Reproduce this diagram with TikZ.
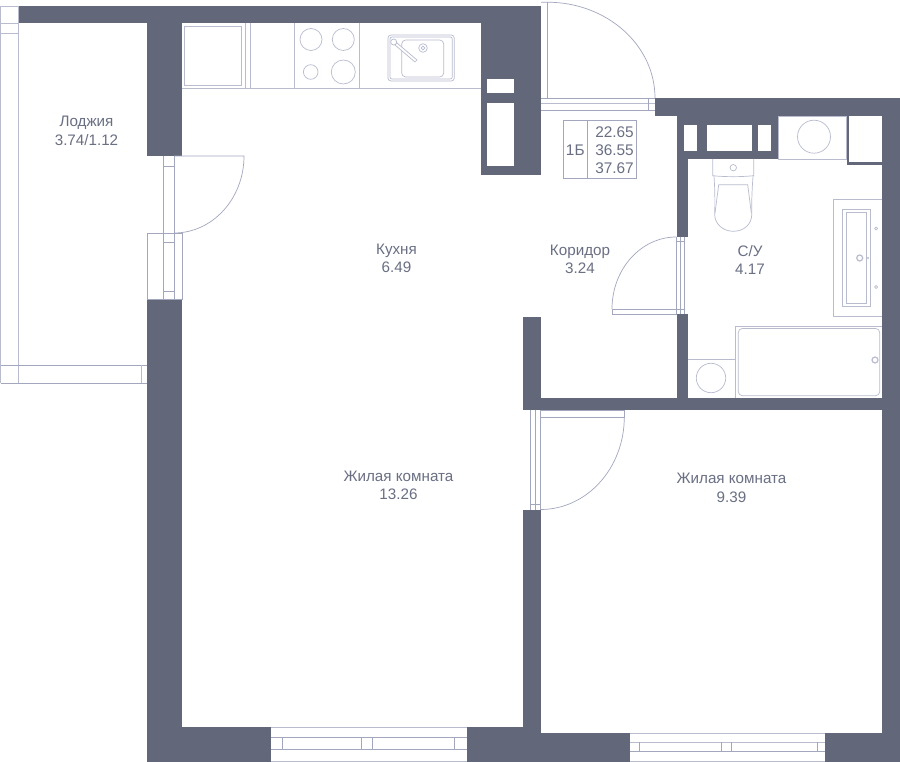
\documentclass[tikz,border=0pt]{standalone}
\usepackage{fontspec}
\setmainfont{Liberation Sans}
\usepackage{xcolor}
\definecolor{wallgray}{HTML}{626879}
\definecolor{fixline}{HTML}{B9BCCF}
\definecolor{doorline}{HTML}{A3A7BE}
\definecolor{labelgray}{HTML}{6A6F83}
\tikzset{
  wall/.style={fill=wallgray, draw=none},
  fixture/.style={draw=fixline, line width=0.7pt},
  doorleaf/.style={draw=doorline, line width=0.7pt},
  room/.style={text=labelgray, align=center, font=\fontsize{15.2}{18.5}\selectfont},
  cell/.style={text=labelgray, inner sep=0pt, font=\fontsize{15.4}{16}\selectfont}
}

\begin{document}
\begin{tikzpicture}[x=1pt, y=-1pt]
  \useasboundingbox[fill=white] (0, 0) rectangle (900, 762);
  % walls
  \fill[wall] (18, 6) rectangle (541, 23);
  \fill[wall] (147, 23) rectangle (182, 156);
  \fill[wall] (481, 23) rectangle (541, 175);
  \fill[wall] (147, 299) rectangle (182, 762);
  \fill[wall] (182, 727) rectangle (271, 762);
  \fill[wall] (467, 727) rectangle (541, 762);
  \fill[wall] (523, 509.5) rectangle (541, 762);
  \fill[wall] (541, 733) rectangle (630, 762);
  \fill[wall] (825, 733) rectangle (900, 762);
  \fill[wall] (523, 317) rectangle (541, 410);
  \fill[wall] (541, 398) rectangle (900, 410);
  \fill[wall] (655, 98) rectangle (900, 116);
  \fill[wall] (882, 116) rectangle (900, 733);
  \fill[wall] (676.5, 116) rectangle (688, 237);
  \fill[wall] (676.5, 314) rectangle (688, 398);
  \fill[wall] (688, 116) rectangle (778, 159);
  \fill[wall] (846.5, 116) rectangle (882, 165);
  % shafts
  \fill[white] (487, 79) rectangle (514, 93);
  \fill[white] (487, 103) rectangle (514, 166);
  \fill[white] (684, 125) rectangle (697, 151.5);
  \fill[white] (707, 125) rectangle (752, 151.5);
  \fill[white] (758, 125) rectangle (771, 151.5);
  \fill[white] (848.5, 116) rectangle (882, 162);
  % loggia
  \draw[fixture] (0.8, 6) -- (0.8, 383);
  \draw[fixture] (0.8, 6) -- (18, 6);
  \draw[fixture] (18, 6) -- (18, 383);
  \draw[fixture] (0.8, 23) -- (18, 23);
  \draw[fixture] (0.8, 33) -- (18, 33);
  \draw[doorleaf] (0.8, 365) -- (147, 365);
  \draw[doorleaf] (0.8, 383) -- (147, 383);
  \draw[fixture] (141.5, 365) -- (141.5, 383);
  % loggia door
  \draw[doorleaf] (147, 233) rectangle (182, 299);
  \draw[doorleaf] (163.7, 156) -- (163.7, 299);
  \draw[doorleaf] (174, 156) -- (174, 299);
  \draw[doorleaf] (163.7, 166) -- (174, 166);
  \draw[doorleaf] (163.7, 242) -- (174, 242);
  \draw[doorleaf] (163.7, 291) -- (174, 291);
  \draw[doorleaf] (174, 156) -- (244, 156) arc[start angle=0, end angle=90, x radius=70, y radius=77];
  % kitchen
  \draw[fixture] (182, 88.3) -- (481, 88.3);
  \draw[fixture] (184.5, 26) rectangle (241.7, 85.5);
  \draw[fixture] (245, 23) -- (245, 88.3);
  \draw[fixture] (250.3, 23) -- (250.3, 88.3);
  \draw[fixture] (294.5, 23) -- (294.5, 88.3);
  \draw[fixture] (359.7, 23) -- (359.7, 88.3);
  \draw[fixture] (311, 39.5) circle (11);
  \draw[fixture] (343.3, 39.5) circle (11);
  \draw[fixture] (310.7, 72) circle (7.3);
  \draw[fixture] (343.3, 72) circle (12);
  \draw[fixture, rounded corners=3pt] (388, 35) rectangle (454.3, 81);
  \draw[fixture, rounded corners=2pt] (390, 37) rectangle (452.3, 79);
  \draw[fixture, rounded corners=4pt] (401.7, 40) rectangle (443.7, 77);
  \draw[fixture] (423, 48) circle (4.3);
  \draw[fixture] (423, 48) circle (1.8);
  \draw[fixture, fill=white] (395, 45) -- (415, 62) -- (417, 60) -- (397, 43) -- cycle;
  \draw[fixture, fill=white] (393.7, 42) circle (3);
  % entrance door
  \draw[doorleaf] (541, 98) -- (655, 98);
  \draw[fixture] (541, 103) -- (655, 103);
  \draw[doorleaf] (541, 110) -- (655, 110);
  \draw[doorleaf] (648.3, 98) -- (648.3, 110);
  \draw[doorleaf] (547.3, 2.2) -- (547.3, 98);
  \draw[doorleaf] (541, 2.2) -- (547.3, 2.2) arc[start angle=-90, end angle=0, x radius=107.7, y radius=95.8];
  % info table
  \draw[doorleaf] (563.3, 120.3) rectangle (636.7, 178.7);
  \draw[doorleaf] (587.3, 120.3) -- (587.3, 178.7);
  \node[cell] (flattype) at (575.3, 150.5) {1Б};
  \node[cell, anchor=east] (areaflat) at (634, 132) {22.65};
  \node[cell, anchor=east] (areatotal) at (634, 150.5) {36.55};
  \node[cell, anchor=east] (areafull) at (634, 168.5) {37.67};
  % bathroom door
  \draw[doorleaf] (676.3, 237.5) -- (676.3, 314);
  \draw[doorleaf] (680.3, 237.5) -- (680.3, 314);
  \draw[doorleaf] (684.3, 237.5) -- (684.3, 314);
  \draw[doorleaf] (676.3, 241.7) -- (684.3, 241.7);
  \draw[doorleaf] (676.3, 309) -- (684.3, 309);
  \draw[doorleaf] (612, 309) rectangle (676.3, 314);
  \draw[doorleaf] (612, 309) arc[start angle=180, end angle=270, x radius=64.3, y radius=72];
  % toilet
  \draw[fixture] (712.7, 159) -- (712.7, 175.7) .. controls (725, 177) and (741, 177) .. (753.7, 175.7) -- (753.7, 159);
  \draw[fixture] (733.3, 167.7) circle (3.2);
  \draw[fixture] (714, 176) .. controls (715, 190) and (715, 203) .. (714.7, 215) .. controls (715, 224) and (723, 231.3) .. (733.3, 231.3) .. controls (744, 231.3) and (751.7, 224) .. (751.7, 215) .. controls (751.5, 203) and (752, 190) .. (753, 176);
  \draw[fixture] (715, 213) -- (718.7, 184.7) -- (747.7, 184.7) -- (751.3, 213);
  % washbasin
  \draw[fixture] (882, 199.3) -- (833.3, 199.3) -- (833.3, 316.7) -- (882, 316.7);
  \draw[fixture] (842.7, 209.3) rectangle (870.3, 306.7);
  \draw[fixture] (846.3, 212.3) rectangle (866.7, 303.3);
  \draw[fixture, line width=1.2pt] (859.7, 258) circle (3);
  \fill[fixline] (868, 258) circle (1.2);
  \draw[fixture] (876, 228.5) circle (1.5);
  \draw[fixture] (876, 287) circle (1.5);
  % bath
  \draw[fixture] (735.3, 326) -- (882, 326);
  \draw[fixture] (735.3, 326) -- (735.3, 398);
  \draw[fixture, rounded corners=4pt] (738.3, 328.5) rectangle (879.7, 395.7);
  \draw[fixture, line width=1.2pt] (875, 360) circle (3);
  \draw[fixture] (688, 359.3) -- (735.3, 359.3);
  \draw[fixture] (711, 378) circle (14.7);
  % washing machine
  \draw[fixture] (778, 116) rectangle (846.5, 159);
  \draw[fixture] (814, 136.7) circle (16.5);
  % room door
  \draw[doorleaf] (530.3, 410) -- (530.3, 509.5);
  \draw[doorleaf] (535.5, 410) -- (535.5, 509.5);
  \draw[doorleaf] (540.7, 410) -- (540.7, 509.5);
  \draw[doorleaf] (530.3, 504) -- (540.7, 504);
  \draw[doorleaf] (540.7, 410) rectangle (624.3, 417);
  \draw[doorleaf] (624.3, 417) arc[start angle=0, end angle=90, x radius=83.6, y radius=92.5];
  % windows
  \draw[fixture] (271, 727) -- (467, 727);
  \draw[doorleaf] (271, 737.3) -- (467, 737.3);
  \draw[doorleaf] (271, 749.3) -- (467, 749.3);
  \draw[fixture] (271, 761.5) -- (467, 761.5);
  \draw[doorleaf] (282.3, 737.3) -- (282.3, 749.3);
  \draw[doorleaf] (361.3, 737.3) -- (361.3, 749.3);
  \draw[doorleaf] (372.3, 737.3) -- (372.3, 749.3);
  \draw[doorleaf] (454.7, 737.3) -- (454.7, 749.3);
  \draw[fixture] (630, 733) -- (825, 733);
  \draw[fixture] (630, 742) -- (825, 742);
  \draw[doorleaf] (630, 751.3) -- (825, 751.3);
  \draw[fixture] (630, 761.5) -- (825, 761.5);
  \draw[doorleaf] (639.7, 742) -- (639.7, 751.3);
  \draw[doorleaf] (721.7, 742) -- (721.7, 751.3);
  \draw[doorleaf] (731.3, 742) -- (731.3, 751.3);
  \draw[doorleaf] (817, 742) -- (817, 751.3);
  % rooms
  \node[room] (loggia) at (86.5, 131) {Лоджия\\3.74/1.12};
  \node[room] (kitchen) at (396.5, 258.5) {Кухня\\6.49};
  \node[room] (corridor) at (580, 259.5) {Коридор\\3.24};
  \node[room] (bathroom) at (750, 260) {С/У\\4.17};
  \node[room] (livingA) at (398.5, 485.5) {Жилая комната\\13.26};
  \node[room] (livingB) at (731.5, 488) {Жилая комната\\9.39};
\end{tikzpicture}
\end{document}
